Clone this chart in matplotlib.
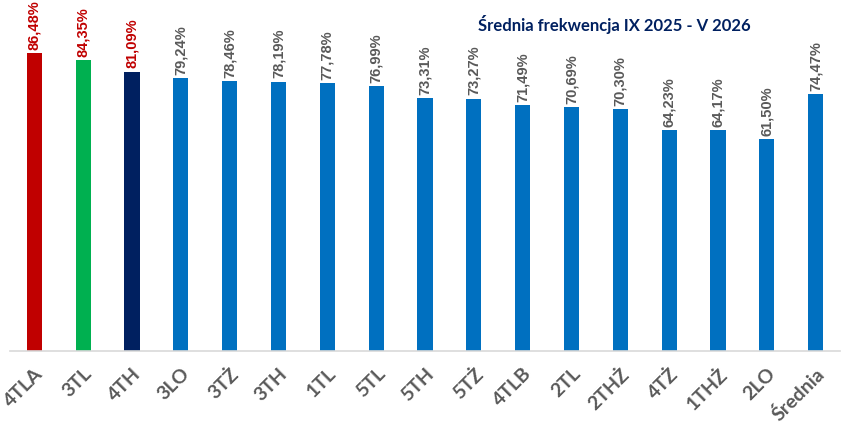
import matplotlib.pyplot as plt

# dane
klasy = ['4TLA', '3TL', '4TH', '3LO', '3TŻ', '3TH', '1TL', '5TL', '5TH', '5TŻ',
         '4TLB', '2TL', '2THŻ', '4TŻ', '1THŻ', '2LO', 'Średnia']
frekwencja = [86.48, 84.35, 81.09, 79.24, 78.46, 78.19, 77.78, 76.99, 73.31, 73.27,
              71.49, 70.69, 70.30, 64.23, 64.17, 61.50, 74.47]
kolory = ['#C00000', '#00B050', '#002060'] + ['#0070C0'] * 14
kolory_etykiet = ['#C00000'] * 3 + ['#595959'] * 14

fig = plt.figure(figsize=(8.53, 4.36), dpi=100)
ax = fig.add_axes([10 / 853, 85 / 436, 830 / 853, 344.6 / 436])

x = range(len(klasy))
ax.bar(x, frekwencja, width=0.31, color=kolory, zorder=2)

# etykiety wartości nad słupkami
for i, v in enumerate(frekwencja):
    ax.text(i, v + 0.9, f'{v:.2f}%'.replace('.', ','), rotation=90,
            ha='center', va='bottom', fontsize=10.5, fontweight='bold',
            color=kolory_etykiet[i], family='Liberation Sans')

ax.set_xlim(-0.5, 16.5)
ax.set_ylim(0, 100)
ax.set_xticks(list(x))
ax.set_xticklabels(klasy, rotation=45, ha='right', rotation_mode='anchor',
                   fontsize=14, fontweight='bold', color='#595959', family='Lato')
ax.tick_params(axis='x', length=0, pad=10)
ax.set_yticks([])
for s in ['top', 'right', 'left']:
    ax.spines[s].set_visible(False)
ax.spines['bottom'].set_color('#D9D9D9')
ax.spines['bottom'].set_linewidth(1.2)

fig.text(614 / 853, 1 - 25 / 436, 'Średnia frekwencja IX 2025 - V 2026', ha='center', va='center',
         fontsize=12, fontweight='bold', color='#002060', family='Lato')

fig.savefig('out.png', dpi=100)
